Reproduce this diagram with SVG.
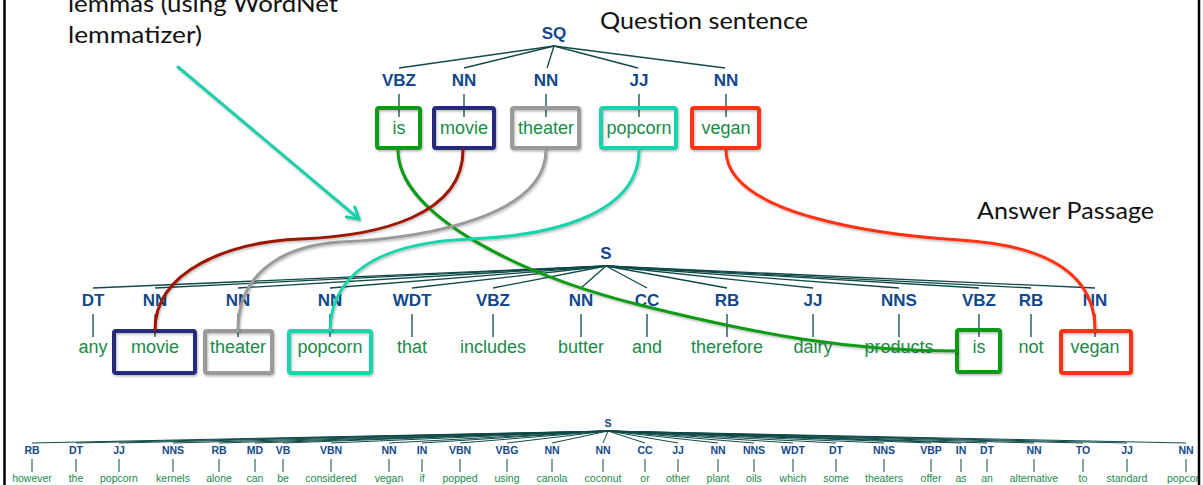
<svg xmlns="http://www.w3.org/2000/svg" width="1203" height="485" viewBox="0 0 1203 485">
<style>
.lbl{font-family:"Liberation Sans",Arial,sans-serif;font-weight:bold;fill:#12488a;text-anchor:middle;font-size:17px}
.w{font-family:"Liberation Sans",Arial,sans-serif;fill:#1a8a48;text-anchor:middle;font-size:18px}
.lbls{font-family:"Liberation Sans",Arial,sans-serif;font-weight:bold;fill:#12488a;text-anchor:middle;font-size:10.5px}
.ws{font-family:"Liberation Sans",Arial,sans-serif;fill:#1a8a48;text-anchor:middle;font-size:10.5px}
.cap{font-family:Lato,"Open Sans",sans-serif;fill:#111;font-size:24px}
.te{stroke:#0f4a48;stroke-width:1.3;fill:none}
.tes{stroke:#0f4a48;stroke-width:1;fill:none}
.box{fill:none;stroke-width:4}
.cv{fill:none;stroke-width:3;stroke-linecap:round}
.g{stroke:#0c9a14}.nv{stroke:#262a7c}.gy{stroke:#9a9a9a}.tq{stroke:#18d4ac}.rd{stroke:#ff3312}.mr{stroke:#9c1600}
</style>
<defs>
<filter id="sh" filterUnits="userSpaceOnUse" x="0" y="0" width="1203" height="485">
<feDropShadow dx="1" dy="1.5" stdDeviation="1" flood-color="#000" flood-opacity="0.28"/>
</filter>
<marker id="ah" markerUnits="userSpaceOnUse" markerWidth="16" markerHeight="16" refX="13" refY="8" orient="auto">
<path d="M2,1.5 L13,8 L2,14.5" fill="none" stroke="#1ecfaa" stroke-width="3" stroke-linecap="round" stroke-linejoin="round"/>
</marker>
<clipPath id="clip"><rect x="0" y="0" width="1198" height="485"/></clipPath>
</defs>
<rect width="1203" height="485" fill="#fff"/>

<g id="captions">
<text class="cap" x="68" y="12" font-size="23" textLength="270" lengthAdjust="spacingAndGlyphs">lemmas (using WordNet</text>
<text class="cap" x="68" y="43" font-size="23" textLength="134" lengthAdjust="spacingAndGlyphs">lemmatizer)</text>
<text class="cap" x="600" y="29" textLength="208" lengthAdjust="spacingAndGlyphs">Question sentence</text>
<text class="cap" x="977" y="219" textLength="177" lengthAdjust="spacingAndGlyphs">Answer Passage</text>
</g>

<g id="connectors">
<g id="edges-top">
<line class="te" x1="554" y1="46" x2="399" y2="68"/>
<line class="te" x1="554" y1="46" x2="464" y2="68"/>
<line class="te" x1="554" y1="46" x2="547" y2="68"/>
<line class="te" x1="554" y1="46" x2="638" y2="68"/>
<line class="te" x1="554" y1="46" x2="725" y2="68"/>
</g>
<g id="edges-middle">
<line class="te" x1="606" y1="266" x2="93" y2="288"/>
<line class="te" x1="606" y1="266" x2="155" y2="288"/>
<line class="te" x1="606" y1="266" x2="238" y2="288"/>
<line class="te" x1="606" y1="266" x2="330" y2="288"/>
<line class="te" x1="606" y1="266" x2="412" y2="288"/>
<line class="te" x1="606" y1="266" x2="493" y2="288"/>
<line class="te" x1="606" y1="266" x2="581" y2="288"/>
<line class="te" x1="606" y1="266" x2="647" y2="288"/>
<line class="te" x1="606" y1="266" x2="727" y2="288"/>
<line class="te" x1="606" y1="266" x2="813" y2="288"/>
<line class="te" x1="606" y1="266" x2="899" y2="288"/>
<line class="te" x1="606" y1="266" x2="979" y2="288"/>
<line class="te" x1="606" y1="266" x2="1031" y2="288"/>
<line class="te" x1="606" y1="266" x2="1095" y2="288"/>
</g>
<g id="edges-bottom" clip-path="url(#clip)">
<line class="tes" x1="608" y1="431" x2="32" y2="443"/>
<line class="tes" x1="608" y1="431" x2="76" y2="443"/>
<line class="tes" x1="608" y1="431" x2="119" y2="443"/>
<line class="tes" x1="608" y1="431" x2="173" y2="443"/>
<line class="tes" x1="608" y1="431" x2="219" y2="443"/>
<line class="tes" x1="608" y1="431" x2="255" y2="443"/>
<line class="tes" x1="608" y1="431" x2="283" y2="443"/>
<line class="tes" x1="608" y1="431" x2="331" y2="443"/>
<line class="tes" x1="608" y1="431" x2="389" y2="443"/>
<line class="tes" x1="608" y1="431" x2="422" y2="443"/>
<line class="tes" x1="608" y1="431" x2="460" y2="443"/>
<line class="tes" x1="608" y1="431" x2="507" y2="443"/>
<line class="tes" x1="608" y1="431" x2="552" y2="443"/>
<line class="tes" x1="608" y1="431" x2="603" y2="443"/>
<line class="tes" x1="608" y1="431" x2="645" y2="443"/>
<line class="tes" x1="608" y1="431" x2="678" y2="443"/>
<line class="tes" x1="608" y1="431" x2="718" y2="443"/>
<line class="tes" x1="608" y1="431" x2="754" y2="443"/>
<line class="tes" x1="608" y1="431" x2="793" y2="443"/>
<line class="tes" x1="608" y1="431" x2="836" y2="443"/>
<line class="tes" x1="608" y1="431" x2="884" y2="443"/>
<line class="tes" x1="608" y1="431" x2="931" y2="443"/>
<line class="tes" x1="608" y1="431" x2="961" y2="443"/>
<line class="tes" x1="608" y1="431" x2="987" y2="443"/>
<line class="tes" x1="608" y1="431" x2="1034" y2="443"/>
<line class="tes" x1="608" y1="431" x2="1083" y2="443"/>
<line class="tes" x1="608" y1="431" x2="1127" y2="443"/>
<line class="tes" x1="608" y1="431" x2="1186" y2="443"/>
</g>
</g>

<g id="top-tree">
<g id="q-SQ"><text class="lbl" x="554" y="39">SQ</text></g>
<g id="q-is"><text class="lbl" x="399" y="86">VBZ</text><line class="te" x1="399" y1="94" x2="399" y2="117"/><rect class="box g" x="377" y="108" width="43" height="40" rx="2" filter="url(#sh)"/><text class="w" x="399" y="134">is</text></g>
<g id="q-movie"><text class="lbl" x="464" y="86">NN</text><line class="te" x1="464" y1="94" x2="464" y2="117"/><rect class="box nv" x="434" y="108" width="60" height="40" rx="2" filter="url(#sh)"/><text class="w" x="464" y="134">movie</text></g>
<g id="q-theater"><text class="lbl" x="546" y="86">NN</text><line class="te" x1="546" y1="94" x2="546" y2="117"/><rect class="box gy" x="512" y="108" width="67" height="40" rx="2" filter="url(#sh)"/><text class="w" x="546" y="134">theater</text></g>
<g id="q-popcorn"><text class="lbl" x="639" y="86">JJ</text><line class="te" x1="639" y1="94" x2="639" y2="117"/><rect class="box tq" x="601" y="108" width="75" height="40" rx="2" filter="url(#sh)"/><text class="w" x="639" y="134">popcorn</text></g>
<g id="q-vegan"><text class="lbl" x="726" y="86">NN</text><line class="te" x1="726" y1="94" x2="726" y2="117"/><rect class="box rd" x="692" y="108" width="67" height="40" rx="2" filter="url(#sh)"/><text class="w" x="726" y="134">vegan</text></g>
</g>

<g id="middle-tree">
<g id="a-S"><text class="lbl" x="606" y="259">S</text></g>
<g id="a-any"><text class="lbl" x="93" y="306">DT</text><line class="te" x1="93" y1="314" x2="93" y2="337"/><text class="w" x="93" y="353">any</text></g>
<g id="a-movie"><text class="lbl" x="155" y="306">NN</text><line class="te" x1="155" y1="314" x2="155" y2="337"/><rect class="box nv" x="114" y="331" width="81" height="42" rx="2" filter="url(#sh)"/><text class="w" x="155" y="353">movie</text></g>
<g id="a-theater"><text class="lbl" x="238" y="306">NN</text><line class="te" x1="238" y1="314" x2="238" y2="337"/><rect class="box gy" x="205" y="331" width="67" height="42" rx="2" filter="url(#sh)"/><text class="w" x="238" y="353">theater</text></g>
<g id="a-popcorn"><text class="lbl" x="330" y="306">NN</text><line class="te" x1="330" y1="314" x2="330" y2="337"/><rect class="box tq" x="289" y="331" width="82" height="42" rx="2" filter="url(#sh)"/><text class="w" x="330" y="353">popcorn</text></g>
<g id="a-that"><text class="lbl" x="412" y="306">WDT</text><line class="te" x1="412" y1="314" x2="412" y2="337"/><text class="w" x="412" y="353">that</text></g>
<g id="a-includes"><text class="lbl" x="493" y="306">VBZ</text><line class="te" x1="493" y1="314" x2="493" y2="337"/><text class="w" x="493" y="353">includes</text></g>
<g id="a-butter"><text class="lbl" x="581" y="306">NN</text><line class="te" x1="581" y1="314" x2="581" y2="337"/><text class="w" x="581" y="353">butter</text></g>
<g id="a-and"><text class="lbl" x="647" y="306">CC</text><line class="te" x1="647" y1="314" x2="647" y2="337"/><text class="w" x="647" y="353">and</text></g>
<g id="a-therefore"><text class="lbl" x="727" y="306">RB</text><line class="te" x1="727" y1="314" x2="727" y2="337"/><text class="w" x="727" y="353">therefore</text></g>
<g id="a-dairy"><text class="lbl" x="813" y="306">JJ</text><line class="te" x1="813" y1="314" x2="813" y2="337"/><text class="w" x="813" y="353">dairy</text></g>
<g id="a-products"><text class="lbl" x="899" y="306">NNS</text><line class="te" x1="899" y1="314" x2="899" y2="337"/><text class="w" x="899" y="353">products</text></g>
<g id="a-is"><text class="lbl" x="979" y="306">VBZ</text><line class="te" x1="979" y1="314" x2="979" y2="337"/><rect class="box g" x="957" y="330" width="43" height="42" rx="2" filter="url(#sh)"/><text class="w" x="979" y="353">is</text></g>
<g id="a-not"><text class="lbl" x="1031" y="306">RB</text><line class="te" x1="1031" y1="314" x2="1031" y2="337"/><text class="w" x="1031" y="353">not</text></g>
<g id="a-vegan"><text class="lbl" x="1095" y="306">NN</text><line class="te" x1="1095" y1="314" x2="1095" y2="337"/><rect class="box rd" x="1061" y="331" width="70" height="42" rx="2" filter="url(#sh)"/><text class="w" x="1095" y="353">vegan</text></g>
</g>

<g id="bottom-tree" clip-path="url(#clip)">
<g id="b-S"><text class="lbls" x="608" y="427">S</text></g>
<g id="b-1"><text class="lbls" x="32" y="454">RB</text><line class="tes" x1="32" y1="459" x2="32" y2="472"/><text class="ws" x="32" y="482">however</text></g>
<g id="b-2"><text class="lbls" x="76" y="454">DT</text><line class="tes" x1="76" y1="459" x2="76" y2="472"/><text class="ws" x="76" y="482">the</text></g>
<g id="b-3"><text class="lbls" x="119" y="454">JJ</text><line class="tes" x1="119" y1="459" x2="119" y2="472"/><text class="ws" x="119" y="482">popcorn</text></g>
<g id="b-4"><text class="lbls" x="173" y="454">NNS</text><line class="tes" x1="173" y1="459" x2="173" y2="472"/><text class="ws" x="173" y="482">kernels</text></g>
<g id="b-5"><text class="lbls" x="219" y="454">RB</text><line class="tes" x1="219" y1="459" x2="219" y2="472"/><text class="ws" x="219" y="482">alone</text></g>
<g id="b-6"><text class="lbls" x="255" y="454">MD</text><line class="tes" x1="255" y1="459" x2="255" y2="472"/><text class="ws" x="255" y="482">can</text></g>
<g id="b-7"><text class="lbls" x="283" y="454">VB</text><line class="tes" x1="283" y1="459" x2="283" y2="472"/><text class="ws" x="283" y="482">be</text></g>
<g id="b-8"><text class="lbls" x="331" y="454">VBN</text><line class="tes" x1="331" y1="459" x2="331" y2="472"/><text class="ws" x="331" y="482">considered</text></g>
<g id="b-9"><text class="lbls" x="389" y="454">NN</text><line class="tes" x1="389" y1="459" x2="389" y2="472"/><text class="ws" x="389" y="482">vegan</text></g>
<g id="b-10"><text class="lbls" x="422" y="454">IN</text><line class="tes" x1="422" y1="459" x2="422" y2="472"/><text class="ws" x="422" y="482">if</text></g>
<g id="b-11"><text class="lbls" x="460" y="454">VBN</text><line class="tes" x1="460" y1="459" x2="460" y2="472"/><text class="ws" x="460" y="482">popped</text></g>
<g id="b-12"><text class="lbls" x="507" y="454">VBG</text><line class="tes" x1="507" y1="459" x2="507" y2="472"/><text class="ws" x="507" y="482">using</text></g>
<g id="b-13"><text class="lbls" x="552" y="454">NN</text><line class="tes" x1="552" y1="459" x2="552" y2="472"/><text class="ws" x="552" y="482">canola</text></g>
<g id="b-14"><text class="lbls" x="603" y="454">NN</text><line class="tes" x1="603" y1="459" x2="603" y2="472"/><text class="ws" x="603" y="482">coconut</text></g>
<g id="b-15"><text class="lbls" x="645" y="454">CC</text><line class="tes" x1="645" y1="459" x2="645" y2="472"/><text class="ws" x="645" y="482">or</text></g>
<g id="b-16"><text class="lbls" x="678" y="454">JJ</text><line class="tes" x1="678" y1="459" x2="678" y2="472"/><text class="ws" x="678" y="482">other</text></g>
<g id="b-17"><text class="lbls" x="718" y="454">NN</text><line class="tes" x1="718" y1="459" x2="718" y2="472"/><text class="ws" x="718" y="482">plant</text></g>
<g id="b-18"><text class="lbls" x="754" y="454">NNS</text><line class="tes" x1="754" y1="459" x2="754" y2="472"/><text class="ws" x="754" y="482">oils</text></g>
<g id="b-19"><text class="lbls" x="793" y="454">WDT</text><line class="tes" x1="793" y1="459" x2="793" y2="472"/><text class="ws" x="793" y="482">which</text></g>
<g id="b-20"><text class="lbls" x="836" y="454">DT</text><line class="tes" x1="836" y1="459" x2="836" y2="472"/><text class="ws" x="836" y="482">some</text></g>
<g id="b-21"><text class="lbls" x="884" y="454">NNS</text><line class="tes" x1="884" y1="459" x2="884" y2="472"/><text class="ws" x="884" y="482">theaters</text></g>
<g id="b-22"><text class="lbls" x="931" y="454">VBP</text><line class="tes" x1="931" y1="459" x2="931" y2="472"/><text class="ws" x="931" y="482">offer</text></g>
<g id="b-23"><text class="lbls" x="961" y="454">IN</text><line class="tes" x1="961" y1="459" x2="961" y2="472"/><text class="ws" x="961" y="482">as</text></g>
<g id="b-24"><text class="lbls" x="987" y="454">DT</text><line class="tes" x1="987" y1="459" x2="987" y2="472"/><text class="ws" x="987" y="482">an</text></g>
<g id="b-25"><text class="lbls" x="1034" y="454">NN</text><line class="tes" x1="1034" y1="459" x2="1034" y2="472"/><text class="ws" x="1034" y="482">alternative</text></g>
<g id="b-26"><text class="lbls" x="1083" y="454">TO</text><line class="tes" x1="1083" y1="459" x2="1083" y2="472"/><text class="ws" x="1083" y="482">to</text></g>
<g id="b-27"><text class="lbls" x="1127" y="454">JJ</text><line class="tes" x1="1127" y1="459" x2="1127" y2="472"/><text class="ws" x="1127" y="482">standard</text></g>
<g id="b-28"><text class="lbls" x="1186" y="454">NN</text><line class="tes" x1="1186" y1="459" x2="1186" y2="472"/><text class="ws" x="1186" y="482">popcorn</text></g>
</g>

<g id="alignments" filter="url(#sh)">
<path class="cv g" d="M398,150 C398,215 520,275 640,305 C760,335 850,351 957,351"/>
<path class="cv mr" d="M463,150 C463,215 380,236 300,239 C230,242 155,270 155,330"/>
<path class="cv gy" d="M546,150 C546,215 430,238 340,242 C280,246 238,275 238,330"/>
<path class="cv tq" d="M639,150 C639,215 550,236 470,239 C400,242 332,262 330,330"/>
<path class="cv rd" d="M726,150 C726,215 880,235 960,240 C1040,245 1095,270 1095,330"/>
<line x1="178" y1="67" x2="359" y2="219" stroke="#1ecfaa" stroke-width="3" stroke-linecap="round" marker-end="url(#ah)"/>
</g>

<g id="frame">
<line x1="4.5" y1="0" x2="4.5" y2="485" stroke="#000" stroke-width="2.5"/>
<line x1="1199" y1="0" x2="1199" y2="485" stroke="#000" stroke-width="2.5"/>
</g>
</svg>
